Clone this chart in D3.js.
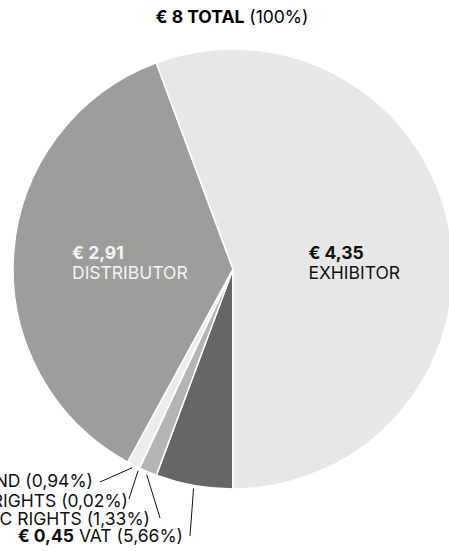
<!DOCTYPE html>
<html>
<head>
<meta charset="utf-8">
<script src="https://cdn.jsdelivr.net/npm/d3@7"></script>
<style>
  html, body { margin: 0; padding: 0; background: #fff; }
  svg { display: block; font-family: Inter, Roboto, sans-serif; }
</style>
</head>
<body>
<svg id="chart" width="449" height="551"></svg>
<script>
// ticket price split, order clockwise from 6 o'clock
var categories = ["VAT", "MUSIC RIGHTS", "NEIGHBOURING RIGHTS", "FILM FUND", "DISTRIBUTOR", "EXHIBITOR"];
var amounts    = ["0,45", "0,11", "0,00", "0,08", "2,91", "4,35"];
var shares     = [5.66, 1.33, 0.02, 0.94, 36.38, 55.67];
var shareText  = ["5,66%", "1,33%", "0,02%", "0,94%", "", ""];
var colors     = ["#666666", "#b4b4b4", "#d2d2d2", "#ececec", "#9d9d9c", "#e7e7e7"];
var totalText  = { amount: "8", label: "TOTAL", pct: "100%" };

var width = 449, height = 551;
var cx = 233, cy = 269, radius = 220;

var svg = d3.select("#chart");

svg.append("text")
  .attr("x", 232)
  .attr("y", 23)
  .attr("text-anchor", "middle")
  .style("font-size", "17.5px")
  .call(function(t){
    t.append("tspan").style("font-weight", 700).text("€ " + totalText.amount + " " + totalText.label);
    t.append("tspan").text(" (" + totalText.pct + ")");
  });

var pie = d3.pie().sort(null).value(function(d){ return d; })
  .startAngle(Math.PI).endAngle(3 * Math.PI);
var arcs = pie(shares);

var arc = d3.arc().innerRadius(0).outerRadius(radius);
var plot = svg.append("g").attr("transform", "translate(" + cx + "," + cy + ")");

plot.selectAll("path.slice")
  .data(arcs)
  .enter().append("path")
  .attr("class", "slice")
  .attr("d", arc)
  .attr("fill", function(d, i){ return colors[i]; })
  .attr("stroke", "#fff")
  .attr("stroke-width", 1.5)
  .attr("stroke-linejoin", "round");

// big inside labels (block centred at a point along the slice's mid angle)
var insideAt = { 4: 0.47, 5: 0.56 };
[4, 5].forEach(function(i){
  var mid = (arcs[i].startAngle + arcs[i].endAngle) / 2;
  var lx = Math.sin(mid) * radius * insideAt[i];
  var g = plot.append("g");
  var fill = i == 4 ? "#f5f5f5" : "#111";
  g.append("text").attr("y", -10).style("font-size", "17.5px").style("font-weight", 700)
    .attr("fill", fill).text("€ " + amounts[i]);
  g.append("text").attr("y", 10).style("font-size", "17.5px")
    .attr("fill", fill).text(categories[i]);
  var bb = g.node().getBBox();
  g.attr("transform", "translate(" + (lx - bb.width / 2) + ",0)");
});

// outside labels for the thin slices
var rows = [
  { tx: 183, ty: 542, ex: 190, ey: 536 },
  { tx: 150, ty: 525, ex: 160, ey: 518 },
  { tx: 128, ty: 507, ex: 129, ey: 499 },
  { tx: 93,  ty: 487, ex: 100, ey: 482 }
];
var edge = d3.arc().innerRadius(radius + 3).outerRadius(radius + 3);

rows.forEach(function(r, i){
  var p = edge.centroid(arcs[i]);
  svg.append("line")
    .attr("x1", cx + p[0]).attr("y1", cy + p[1])
    .attr("x2", r.ex).attr("y2", r.ey)
    .attr("stroke", "#111").attr("stroke-width", 1);
  var t = svg.append("text")
    .attr("x", r.tx).attr("y", r.ty)
    .attr("text-anchor", "end")
    .style("font-size", "17.5px")
    .attr("fill", "#111");
  t.append("tspan").style("font-weight", 700).text("€ " + amounts[i]);
  t.append("tspan").text(" " + categories[i] + " (" + shareText[i] + ")");
});
</script>
</body>
</html>
